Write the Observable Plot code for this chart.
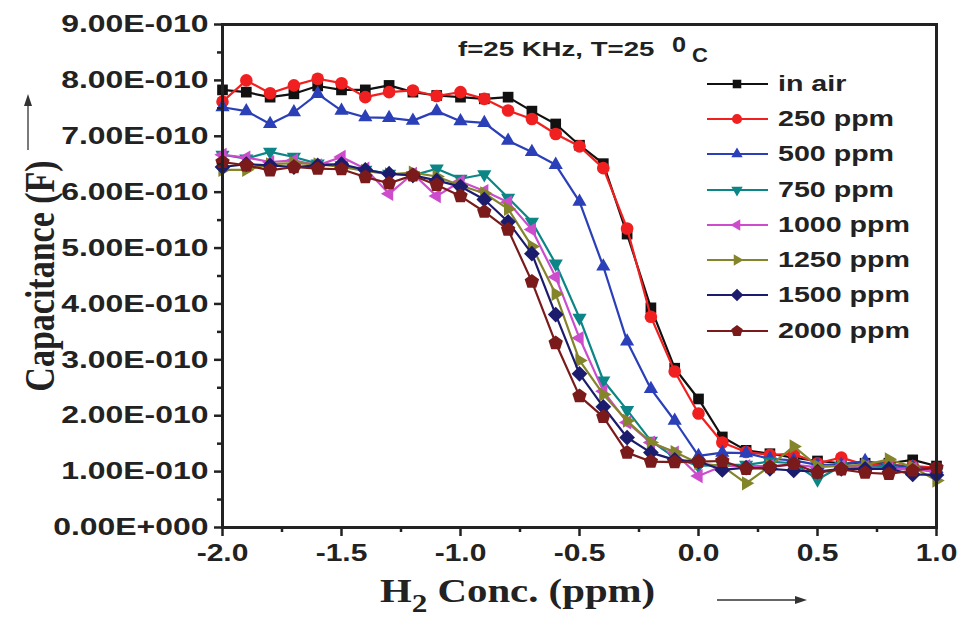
<!DOCTYPE html>
<html><head><meta charset="utf-8">
<script src="https://cdn.jsdelivr.net/npm/d3@7"></script>
<script src="https://cdn.jsdelivr.net/npm/@observablehq/plot@0.6"></script>
<style>
body{margin:0;background:#fff;}
#wrap{position:relative;width:958px;height:622px;overflow:hidden;background:#fff;}
#wrap svg.plot{position:absolute;left:0;top:0;}
.ov{position:absolute;white-space:nowrap;color:#222;line-height:1.15;}
.sans{font-family:"Liberation Sans",Arial,sans-serif;font-weight:bold;}
.serif{font-family:"Liberation Serif","Times New Roman",serif;font-weight:bold;}
.sx{display:inline-block;transform-origin:left center;}
#legend{position:absolute;left:700px;top:66px;}
.lg{height:35.3px;display:flex;align-items:center;}
.lg span{font-family:"Liberation Sans",Arial,sans-serif;font-weight:bold;font-size:22px;color:#222;margin-left:8px;display:inline-block;transform:scaleX(1.3);transform-origin:left center;}
</style></head><body>
<div id="wrap"></div>
<script>
// ---- data (capacitance in units of 1e-10 F) ----
const xValues = [-2.0,-1.9,-1.8,-1.7,-1.6,-1.5,-1.4,-1.3,-1.2,-1.1,-1.0,-0.9,-0.8,-0.7,-0.6,-0.5,-0.4,-0.3,-0.2,-0.1,0.0,0.1,0.2,0.3,0.4,0.5,0.6,0.7,0.8,0.9,1.0];
const seriesNames = ["in air","250 ppm","500 ppm","750 ppm","1000 ppm","1250 ppm","1500 ppm","2000 ppm"];
const airValues  = [7.83,7.79,7.70,7.76,7.90,7.83,7.83,7.91,7.79,7.73,7.70,7.67,7.70,7.45,7.22,6.84,6.51,5.25,3.93,2.85,2.30,1.62,1.38,1.32,1.25,1.19,1.15,1.15,1.15,1.21,1.10];
const ppm250     = [7.62,8.00,7.77,7.91,8.03,7.95,7.70,7.79,7.82,7.72,7.79,7.67,7.46,7.31,7.04,6.82,6.43,5.35,3.77,2.79,2.04,1.52,1.35,1.30,1.32,1.15,1.25,1.12,1.12,1.10,1.07];
const ppm500     = [7.52,7.45,7.22,7.43,7.76,7.46,7.34,7.33,7.28,7.45,7.27,7.24,6.92,6.72,6.49,5.83,4.67,3.33,2.48,1.91,1.28,1.34,1.33,1.23,1.20,1.12,1.12,1.19,1.12,1.08,1.05];
const ppm750     = [6.67,6.60,6.72,6.63,6.51,6.48,6.40,6.33,6.30,6.42,6.24,6.32,5.90,5.47,4.72,3.75,2.63,2.10,1.55,1.25,1.10,1.12,1.12,1.18,1.15,0.86,1.10,1.08,1.08,1.05,1.00];
const ppm1000    = [6.67,6.62,6.54,6.57,6.48,6.63,6.42,5.97,6.33,5.93,6.19,6.02,5.82,5.33,4.48,3.39,2.44,1.88,1.52,1.34,0.92,1.10,1.10,1.10,1.12,1.08,1.10,1.08,1.05,1.05,1.00];
const ppm1250    = [6.40,6.40,6.50,6.52,6.50,6.45,6.38,6.32,6.35,6.28,6.12,5.98,5.70,5.03,4.18,2.99,2.38,1.91,1.52,1.35,1.15,1.10,0.79,1.10,1.45,1.10,1.10,1.12,1.22,1.08,0.84];
const ppm1500    = [6.45,6.50,6.48,6.45,6.48,6.50,6.40,6.33,6.30,6.21,6.10,5.87,5.47,4.90,3.81,2.75,2.16,1.61,1.34,1.21,1.18,1.03,1.07,1.05,1.02,1.00,1.05,1.05,1.05,0.95,0.94];
const ppm2000    = [6.54,6.48,6.39,6.45,6.42,6.41,6.27,6.16,6.30,6.13,5.93,5.65,5.33,4.40,3.30,2.35,1.98,1.34,1.18,1.17,1.18,1.19,1.05,1.08,1.14,0.98,1.04,0.98,0.96,1.02,1.07];
const xTicks = [-2.0,-1.5,-1.0,-0.5,0.0,0.5,1.0];
const xMinor = [-1.75,-1.25,-0.75,-0.25,0.25,0.75];
const yTicks = [0,1,2,3,4,5,6,7,8,9];
const yMinor = [0.5,1.5,2.5,3.5,4.5,5.5,6.5,7.5,8.5];

const allSeries = [airValues,ppm250,ppm500,ppm750,ppm1000,ppm1250,ppm1500,ppm2000];
const colors = ["#111111","#f02020","#2a3fb8","#0b8585","#cc4ccc","#84842a","#1c1c6e","#7a1a1a"];

// ---- marker shapes ----
function poly(n, rot, scale){
  return {draw(ctx, size){
    const R = Math.sqrt(size/Math.PI)*scale;
    for(let i=0;i<n;i++){
      const a = rot + i*2*Math.PI/n;
      const px = R*Math.sin(a), py = -R*Math.cos(a);
      if(i===0) ctx.moveTo(px,py); else ctx.lineTo(px,py);
    }
    ctx.closePath();
  }};
}
const symbols = [
  poly(4, Math.PI/4, 1.2),   // square
  d3.symbolCircle,            // circle
  poly(3, 0, 1.3),            // up triangle
  poly(3, Math.PI, 1.3),      // down triangle
  poly(3, -Math.PI/2, 1.3),   // left triangle
  poly(3, Math.PI/2, 1.3),    // right triangle
  poly(4, 0, 1.25),           // diamond
  poly(5, 0, 1.2)             // pentagon
];

const rows = [];
allSeries.forEach((vals, s) => vals.forEach((v, i) => rows.push({series: seriesNames[s], x: xValues[i], y: v*1e-10})));

const fmtY = v => { const m = Math.round(v/1e-10*100)/100; return m === 0 ? "0.00E+000" : m.toFixed(2) + "E-010"; };

const seriesMarks = [];
seriesNames.forEach((name, s) => {
  const d = rows.filter(r => r.series === name);
  seriesMarks.push(Plot.line(d, {x: "x", y: "y", stroke: colors[s], strokeWidth: 2.2}));
  seriesMarks.push(Plot.dot(d, {x: "x", y: "y", fill: colors[s], stroke: "none", r: 6.3, symbol: symbols[s]}));
});

const chart = Plot.plot({
  width: 958, height: 622,
  marginLeft: 222, marginRight: 22, marginTop: 24, marginBottom: 95,
  x: {domain: [-2, 1]},
  y: {domain: [0, 9e-10]},
  style: {background: "white", color: "#222", fontFamily: "'Liberation Sans', Arial, sans-serif", fontWeight: "bold"},
  marks: [
    ...seriesMarks,
    Plot.frame({stroke: "#222", strokeWidth: 3}),
    Plot.axisX({ticks: xTicks, tickFormat: d => d.toFixed(1), tickSize: 9, tickPadding: 7, strokeWidth: 2.5, fontSize: 24, label: null}),
    Plot.axisX({ticks: xMinor, tickFormat: () => "", tickSize: 5, strokeWidth: 2.5, label: null}),
    Plot.axisY({ticks: yTicks.map(t => t*1e-10), tickFormat: fmtY, tickSize: 8, tickPadding: 6, strokeWidth: 2.5, fontSize: 24, label: null}),
    Plot.axisY({ticks: yMinor.map(t => t*1e-10), tickFormat: () => "", tickSize: 5, strokeWidth: 2.5, label: null})
  ]
});
chart.classList.add("plot");
const wrap = document.getElementById("wrap");
wrap.appendChild(chart);

// widen tick labels horizontally like the reference
function widen(sel, k){
  chart.querySelectorAll(sel).forEach(t => {
    const w = t.getComputedTextLength();
    if (w > 0) { t.setAttribute("textLength", w*k); t.setAttribute("lengthAdjust", "spacingAndGlyphs"); }
  });
}
widen('g[aria-label="y-axis tick label"] text', 1.33);
widen('g[aria-label="x-axis tick label"] text', 1.25);

// ---- overlay texts ----
function ov(html, cls, css){ const e = document.createElement("div"); e.className = "ov " + cls; e.innerHTML = html; Object.assign(e.style, css); wrap.appendChild(e); return e; }
ov("<span class='sx' style='transform:scaleX(1.38)'>f=25 KHz, T=25</span>", "sans", {left: "458px", top: "38px", fontSize: "20px"});
ov("<span class='sx' style='transform:scaleX(1.15)'>0</span>", "sans", {left: "672px", top: "32px", fontSize: "22px"});
ov("<span class='sx' style='transform:scaleX(1.1)'>C</span>", "sans", {left: "692px", top: "44px", fontSize: "20px"});
ov("<span style='display:inline-block;transform:scaleY(1.25)'>Capacitance (F)</span>", "serif", {left: "40px", top: "276px", fontSize: "34px", transform: "translate(-50%,-50%) rotate(-90deg)"});
ov("<span class='sx' style='transform:scaleX(1.2)'>H<span style='font-size:26px;position:relative;top:10px'>2</span> Conc. (ppm)</span>", "serif", {left: "380px", top: "571px", fontSize: "34px"});

// arrows
const arr = d3.create("svg").attr("width", 958).attr("height", 622).style("position","absolute").style("left",0).style("top",0);
arr.append("line").attr("x1",28).attr("y1",150).attr("x2",28).attr("y2",104).attr("stroke","#333").attr("stroke-width",1.3);
arr.append("path").attr("d","M28,94 L24,106 L32,106 Z").attr("fill","#333");
arr.append("line").attr("x1",717).attr("y1",600).attr("x2",797).attr("y2",600).attr("stroke","#333").attr("stroke-width",1.3);
arr.append("path").attr("d","M807,600 L795,596 L795,604 Z").attr("fill","#333");
wrap.appendChild(arr.node());

// legend
const lg = document.createElement("div"); lg.id = "legend"; wrap.appendChild(lg);
seriesNames.forEach((name, s) => {
  const row = document.createElement("div"); row.className = "lg";
  const sv = d3.create("svg").attr("width", 70).attr("height", 20);
  sv.append("line").attr("x1",7).attr("x2",68).attr("y1",10).attr("y2",10).attr("stroke",colors[s]).attr("stroke-width",2.2);
  const p = d3.path(); symbols[s].draw(p, 80);
  sv.append("path").attr("d", p.toString()).attr("transform","translate(37,10)").attr("fill",colors[s]);
  row.appendChild(sv.node());
  const t = document.createElement("span"); t.textContent = name; row.appendChild(t);
  lg.appendChild(row);
});
</script>
</body></html>
